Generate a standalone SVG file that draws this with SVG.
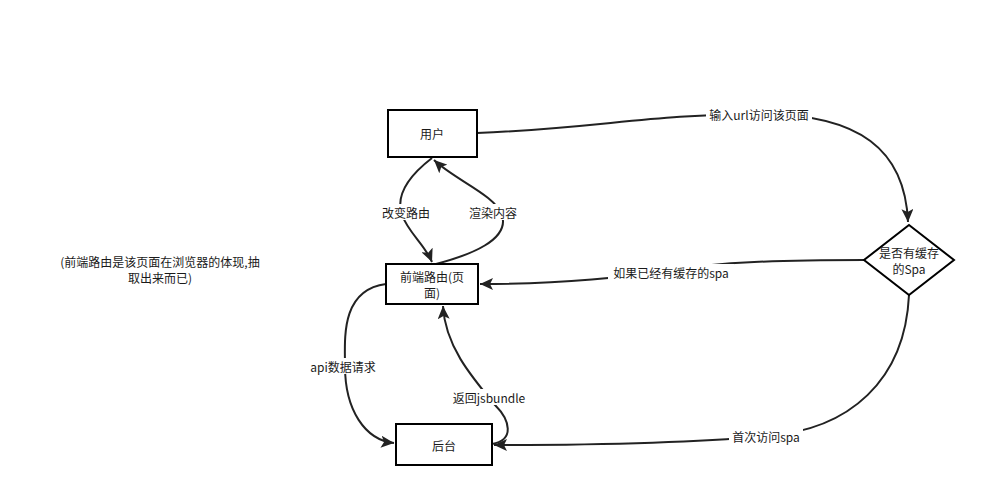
<svg xmlns="http://www.w3.org/2000/svg" width="986" height="504" viewBox="0 0 986 504">
<style>
.box{fill:#fff;stroke:#000;stroke-width:2}
.t{font-family:"Noto Sans CJK SC","Liberation Sans",sans-serif;font-size:12px;fill:#1a1a1a;text-anchor:middle;dominant-baseline:central}
.e{fill:none;stroke:#222;stroke-width:2}
.lb{fill:#fff}
</style>
<defs>
<marker id="arr" markerUnits="userSpaceOnUse" markerWidth="14" markerHeight="12" refX="13" refY="6" orient="auto">
<path d="M0,0 L13,6 L0,12 L3,6 z" fill="#222"/>
</marker>
</defs>
<rect width="986" height="504" fill="#fff"/>
<g id="connectors">
<path class="e" d="M477,133 C600,128 650,114 760,114 C860,114 905,150 908,222" marker-end="url(#arr)"/>
<path class="e" d="M864,260 C780,260 720,262 670,270 C620,278 560,284 480,284" marker-end="url(#arr)"/>
<path class="e" d="M909,295 C905,380 850,430 766,436 C700,442 600,445 494,445" marker-end="url(#arr)"/>
<path class="e" d="M386,284 C340,290 345,340 345,366 C345,410 365,440 394,443" marker-end="url(#arr)"/>
<path class="e" d="M492,444 C515,440 510,420 495,405 C470,375 445,345 443,306" marker-end="url(#arr)"/>
<path class="e" d="M432,158 C410,175 395,195 402,215 C408,232 425,245 432,262" marker-end="url(#arr)"/>
<path class="e" d="M436,264 C470,255 510,240 502,215 C495,195 455,180 434,160" marker-end="url(#arr)"/>
<g id="edge-labels">
<rect class="lb" x="706" y="106" width="106" height="16"/><text class="t" x="759" y="114">输入url访问该页面</text>
<rect class="lb" x="608" y="264" width="126" height="16"/><text class="t" x="671" y="272">如果已经有缓存的spa</text>
<rect class="lb" x="729" y="428" width="74" height="16"/><text class="t" x="766" y="436">首次访问spa</text>
<rect class="lb" x="307" y="358" width="72" height="16"/><text class="t" x="343" y="366">api数据请求</text>
<rect class="lb" x="449" y="389" width="80" height="16"/><text class="t" x="489" y="397">返回jsbundle</text>
<rect class="lb" x="379" y="204" width="54" height="16"/><text class="t" x="406" y="212">改变路由</text>
<rect class="lb" x="466" y="204" width="54" height="16"/><text class="t" x="493" y="212">渲染内容</text>
</g>
</g>
<g id="user"><rect class="box" x="388" y="110" width="89" height="47"/><text class="t" x="432" y="133">用户</text></g>
<g id="frontend"><rect class="box" x="386" y="264" width="92" height="40"/><text class="t" x="432" y="276">前端路由(页</text><text class="t" x="432" y="292">面)</text></g>
<g id="backend"><rect class="box" x="396" y="424" width="96" height="41"/><text class="t" x="444" y="445">后台</text></g>
<g id="cache"><path class="box" d="M909,225 L954,260 L909,295 L864,260 Z"/><text class="t" x="909" y="252">是否有缓存</text><text class="t" x="909" y="268">的Spa</text></g>
<g id="note"><text class="t" x="160" y="261">(前端路由是该页面在浏览器的体现,抽</text><text class="t" x="160" y="277">取出来而已)</text></g>
</svg>
